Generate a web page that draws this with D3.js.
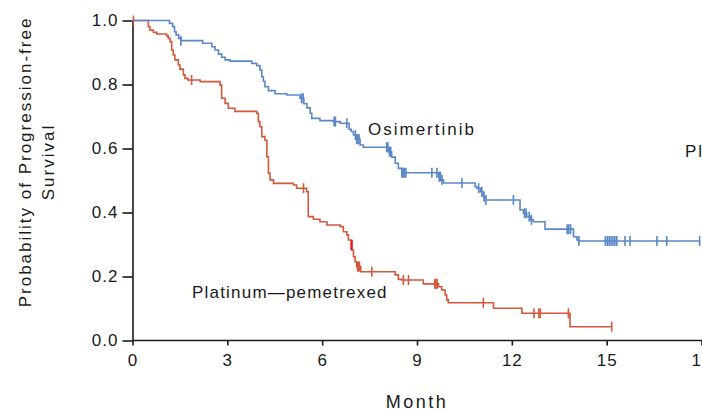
<!DOCTYPE html>
<html>
<head>
<meta charset="utf-8">
<script src="https://cdn.jsdelivr.net/npm/d3@7"></script>
<style>
  html, body { margin: 0; padding: 0; background: #fff; }
  svg { display: block; font-family: "Liberation Sans", Arial, sans-serif; }
</style>
</head>
<body>
<div id="chart"></div>
<script>
// Kaplan–Meier curves, progression-free survival
// each step: [month, survival after the drop]
const osiSteps = [
  [1.17, .991], [1.27, .981], [1.33, .965], [1.38, .955], [1.46, .944], [1.53, .937],
  [2.22, .929], [2.51, .918], [2.61, .908], [2.72, .895], [2.82, .885], [2.93, .877],
  [3.09, .873], [3.77, .866], [3.93, .859], [4.03, .845], [4.09, .824], [4.14, .810],
  [4.19, .793], [4.30, .781], [4.51, .771], [4.88, .767], [5.30, .757], [5.42, .740],
  [5.52, .727], [5.62, .710], [5.67, .694], [5.93, .687], [6.35, .684], [6.57, .679],
  [6.85, .660], [6.92, .653], [6.99, .642], [7.09, .629], [7.20, .611], [7.30, .604],
  [8.10, .590], [8.20, .573], [8.31, .554], [8.41, .538], [8.52, .524], [9.68, .512],
  [9.75, .502], [9.84, .492], [10.84, .481], [10.89, .476], [11.00, .465], [11.10, .449],
  [11.16, .439], [12.26, .408], [12.37, .398], [12.47, .387], [12.58, .377], [12.68, .371],
  [13.05, .348], [13.95, .324], [14.06, .314], [14.11, .311]
];
const osiEnd = 17.96;
const osiCensor = [
  1.53, 5.35, 5.40, 6.38, 6.42, 6.78, 7.05, 7.09, 7.13, 7.17, 8.04, 8.08, 8.13, 8.17,
  8.52, 8.56, 8.60, 8.65, 9.47, 9.63, 9.70, 9.74, 9.79, 10.42, 10.95, 11.05, 11.12, 11.18,
  12.05, 12.40, 12.45, 12.55, 12.62, 13.75, 13.80, 13.86, 14.12,
  14.96, 15.02, 15.08, 15.14, 15.20, 15.26, 15.32, 15.58, 15.74, 16.59, 16.90, 17.94
];

const platSteps = [
  [0.50, .981], [0.55, .970], [0.66, .963], [0.77, .958], [1.08, .952], [1.13, .944],
  [1.19, .934], [1.24, .908], [1.29, .892], [1.34, .877], [1.45, .861], [1.50, .848],
  [1.61, .830], [1.66, .819], [1.75, .814], [2.14, .809], [2.77, .798], [2.82, .757],
  [2.93, .741], [3.03, .726], [3.24, .716], [3.93, .710], [3.98, .684], [4.03, .668],
  [4.09, .637], [4.19, .626], [4.25, .574], [4.30, .523], [4.35, .502], [4.46, .491],
  [5.09, .486], [5.19, .476], [5.51, .465], [5.56, .387], [5.72, .379], [5.93, .371],
  [6.15, .361], [6.57, .356], [6.67, .340], [6.78, .330], [6.83, .314], [6.93, .283],
  [6.99, .262], [7.04, .246], [7.09, .231], [7.22, .215], [8.31, .205], [8.41, .191],
  [8.52, .189], [9.20, .177], [9.68, .168], [9.78, .158], [9.89, .142], [9.94, .127],
  [9.99, .118], [11.42, .101], [12.32, .085], [13.84, .043]
];
const platEnd = 15.16;
const platCensor = [
  0.03, 1.87, 5.41, 7.12, 7.15, 7.18, 7.57, 8.57, 8.73, 9.56, 9.60, 9.64,
  11.10, 12.70, 12.85, 12.90, 13.79, 15.16
];
// brighter red stretch on the drop near month 7: [month, from, to]
const platHighlight = [6.93, .314, .283];

const xTicks = [0, 3, 6, 9, 12, 15, 18];
const yTicks = [0, 0.2, 0.4, 0.6, 0.8, 1.0];

const BLUE = '#5b87c9';
const RED  = '#d4583c';

const W = 702, H = 414;
const x = d3.scaleLinear().domain([0, 18]).range([132.5, 701.5]);
const y = d3.scaleLinear().domain([0, 1]).range([340.5, 20.5]);

const svg = d3.select('#chart').append('svg')
  .attr('width', W).attr('height', H);

// ── axes ──
const xAxis = svg.append('g')
  .attr('transform', `translate(0,${y(0)})`)
  .call(d3.axisBottom(x).tickValues(xTicks).tickSize(5).tickSizeOuter(0).tickPadding(4));
xAxis.select('.domain').attr('d', `M${x(0)},0H${W + 5}`);

const yAxis = svg.append('g')
  .attr('transform', `translate(${x(0)},0)`)
  .call(d3.axisLeft(y).tickValues(yTicks).tickSize(10).tickSizeOuter(0).tickPadding(4)
    .tickFormat(d3.format('.1f')));

svg.selectAll('.domain, .tick line').attr('stroke', '#1a1a1a').attr('stroke-width', 1.6);
svg.selectAll('.tick text')
  .attr('font-family', '"Liberation Sans", Arial, sans-serif')
  .attr('font-size', 17).attr('letter-spacing', 1).attr('fill', '#1a1a1a');
xAxis.selectAll('.tick text').attr('dy', '0.95em');

// ── curves ──
const survAt = (steps, t) => {
  const i = d3.bisector(d => d[0]).right(steps, t);
  return i === 0 ? 1 : steps[i - 1][1];
};
const line = d3.line().x(d => x(d[0])).y(d => y(d[1])).curve(d3.curveStepAfter);

function drawCurve(steps, end, censor, color) {
  const pts = [[0, 1], ...steps, [end, steps[steps.length - 1][1]]];
  const g = svg.append('g');
  g.append('path')
    .attr('d', line(pts))
    .attr('fill', 'none')
    .attr('stroke', color)
    .attr('stroke-width', 1.6);
  g.selectAll('line')
    .data(censor)
    .join('line')
      .attr('x1', d => x(d)).attr('x2', d => x(d))
      .attr('y1', d => y(survAt(steps, d)) - 5)
      .attr('y2', d => y(survAt(steps, d)) + 5)
      .attr('stroke', color)
      .attr('stroke-width', 1.6);
  return g;
}

drawCurve(platSteps, platEnd, platCensor, RED);
drawCurve(osiSteps, osiEnd, osiCensor, BLUE);

svg.append('line')
  .attr('x1', x(platHighlight[0])).attr('x2', x(platHighlight[0]))
  .attr('y1', y(platHighlight[1])).attr('y2', y(platHighlight[2]))
  .attr('stroke', '#ec1c24').attr('stroke-width', 2.4);

// ── labels ──
const txt = (sx, sy, s, ls) => svg.append('text')
  .attr('x', sx).attr('y', sy)
  .attr('font-size', 17).attr('letter-spacing', ls).attr('fill', '#1a1a1a')
  .text(s);

txt(368, 135, 'Osimertinib', 2);
txt(192, 298, 'Platinum\u2014pemetrexed', 1.2);
txt(685, 157, 'Pl', 2);

svg.append('text')
  .attr('x', x(9)).attr('y', 408)
  .attr('text-anchor', 'middle')
  .attr('font-size', 18).attr('letter-spacing', 2.5).attr('fill', '#1a1a1a')
  .text('Month');

const yTitle = svg.append('text')
  .attr('transform', 'translate(0,162) rotate(-90)')
  .attr('text-anchor', 'middle')
  .attr('font-size', 17).attr('letter-spacing', 2).attr('fill', '#1a1a1a');
yTitle.append('tspan').attr('x', 0).attr('y', 31).text('Probability of Progression-free');
yTitle.append('tspan').attr('x', 0).attr('y', 54).text('Survival');
</script>
</body>
</html>
